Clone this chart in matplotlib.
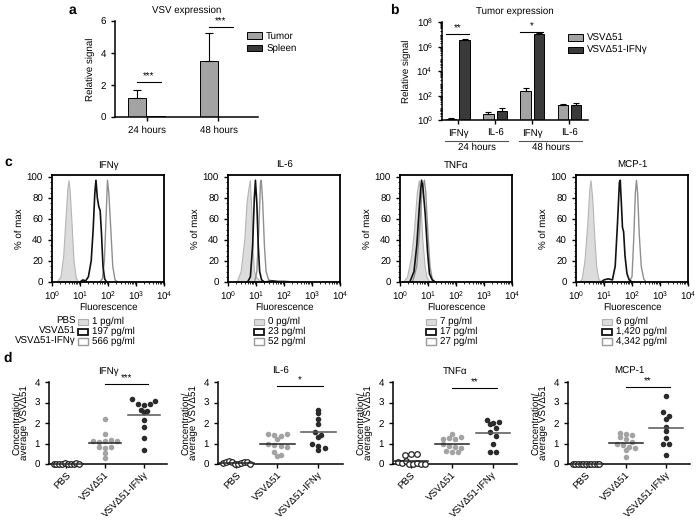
import matplotlib
matplotlib.use('Agg')
import matplotlib.pyplot as plt
import matplotlib.transforms as mtransforms
from matplotlib.patches import Rectangle
from matplotlib.ticker import LogLocator, NullFormatter, MultipleLocator, FixedLocator
import numpy as np

plt.rcParams['font.family'] = ['Liberation Sans', 'DejaVu Sans']
plt.rcParams['mathtext.default'] = 'regular'
plt.rcParams['text.hinting'] = 'no_hinting'
plt.rcParams['font.size'] = 7
plt.rcParams['axes.linewidth'] = 1.1
plt.rcParams['xtick.major.size'] = 3
plt.rcParams['ytick.major.size'] = 3
plt.rcParams['xtick.minor.size'] = 1.5
plt.rcParams['ytick.minor.size'] = 1.5
plt.rcParams['xtick.major.width'] = 1.0
plt.rcParams['ytick.major.width'] = 1.0

LIGHT = '#a3a3a3'
DARK = '#3a3a3a'

# ---- panel a: VSV expression
a_groups = ['24 hours', '48 hours']
a_tumor = [1.2, 3.5]
a_tumor_err = [0.5, 1.75]
a_spleen = [0.04, 0.03]
a_sig = ['***', '***']
a_sig_y = [2.2, 5.6]

# ---- panel b: tumor expression (log scale)
b_cats = ['IFNγ', 'IL-6', 'IFNγ', 'IL-6']
b_times = ['24 hours', '48 hours']
b_vsv = [1.2, 2.9, 230, 16]
b_vsv_top = [1.4, 4.2, 430, 22]
b_ifn = [3.6e6, 5.4, 1.05e7, 16.5]
b_ifn_top = [4.2e6, 10, 1.25e7, 26]
b_sig = ['**', '*']
b_sig_y = [1.0e7, 1.4e7]

# ---- panel c: flow histograms, points read as (log10 fluorescence, % of max)
c_titles = ['IFNγ', 'IL-6', 'TNFα', 'MCP-1']
c_groups = ['PBS', 'VSVΔ51', 'VSVΔ51-IFNγ']
c_conc = [['1 pg/ml', '197 pg/ml', '566 pg/ml'],
          ['0 pg/ml', '23 pg/ml', '52 pg/ml'],
          ['7 pg/ml', '17 pg/ml', '27 pg/ml'],
          ['6 pg/ml', '1,420 pg/ml', '4,342 pg/ml']]

ifng_pbs = [(0.15, 0), (0.3, 5), (0.4, 25), (0.48, 60), (0.55, 90), (0.59, 97), (0.63, 88),
            (0.7, 55), (0.77, 20), (0.85, 4), (0.95, 0)]
ifng_vsv = [(1.0, 0), (1.1, 2), (1.2, 1), (1.3, 5), (1.4, 20), (1.47, 50), (1.53, 85), (1.57, 97),
            (1.62, 80), (1.67, 72), (1.72, 68), (1.77, 45), (1.82, 15), (1.88, 3), (1.95, 0)]
ifng_ifn = [(1.7, 0), (1.8, 3), (1.87, 20), (1.93, 60), (1.98, 97), (2.03, 85), (2.1, 50),
            (2.17, 15), (2.25, 2), (2.35, 0)]

il6_pbs = [(0.3, 0), (0.45, 10), (0.58, 40), (0.66, 75), (0.72, 88), (0.78, 97), (0.83, 70),
           (0.88, 30), (0.93, 10), (1.0, 5), (1.1, 2), (1.2, 0)]
il6_vsv = [(0.7, 0), (0.8, 5), (0.88, 35), (0.94, 80), (0.98, 97), (1.03, 75), (1.08, 35),
           (1.13, 10), (1.2, 2), (1.3, 0), (1.6, 1), (1.8, 0)]
il6_ifn = [(0.95, 0), (1.03, 10), (1.1, 50), (1.16, 95), (1.19, 97), (1.24, 75), (1.3, 35),
           (1.36, 10), (1.45, 2), (1.6, 1), (2.0, 1), (2.3, 0)]

tnf_pbs = [(0.1, 0), (0.25, 5), (0.4, 25), (0.5, 50), (0.6, 85), (0.67, 97), (0.72, 80),
           (0.8, 40), (0.88, 15), (0.95, 5), (1.05, 0)]
tnf_vsv = [(0.35, 0), (0.5, 10), (0.6, 35), (0.7, 75), (0.77, 97), (0.82, 90), (0.9, 65),
           (0.98, 30), (1.05, 8), (1.15, 2), (1.25, 0)]
tnf_ifn = [(0.45, 0), (0.6, 15), (0.7, 50), (0.78, 85), (0.87, 97), (0.92, 85), (1.0, 45),
           (1.07, 15), (1.15, 3), (1.25, 0)]

mcp_pbs = [(0.1, 0), (0.2, 3), (0.3, 20), (0.4, 55), (0.48, 90), (0.52, 97), (0.58, 80),
           (0.65, 45), (0.72, 15), (0.8, 3), (0.9, 0)]
mcp_vsv = [(0.9, 0), (1.0, 2), (1.15, 3), (1.3, 2), (1.4, 15), (1.48, 55), (1.55, 95), (1.58, 97),
           (1.62, 75), (1.66, 52), (1.7, 48), (1.75, 25), (1.82, 8), (1.9, 2), (2.0, 0)]
mcp_ifn = [(1.9, 0), (2.0, 5), (2.06, 40), (2.12, 85), (2.16, 97), (2.2, 85), (2.26, 45),
           (2.33, 15), (2.42, 3), (2.5, 0)]

c_curves = [(ifng_pbs, ifng_vsv, ifng_ifn), (il6_pbs, il6_vsv, il6_ifn),
            (tnf_pbs, tnf_vsv, tnf_ifn), (mcp_pbs, mcp_vsv, mcp_ifn)]

# ---- panel d: concentration / average VSVd51
d_titles = ['IFNγ', 'IL-6', 'TNFα', 'MCP-1']
d_cats = ['PBS', 'VSVΔ51', 'VSVΔ51-IFNγ']
ifng_d = [[0.0, 0.02, 0.0, 0.01, 0.03, 0.0, 0.02, 0.01, 0.04, 0.0],
          [2.2, 1.45, 1.1, 1.05, 1.1, 1.15, 1.1, 0.85, 0.8, 0.85, 0.55, 0.3],
          [3.15, 2.95, 2.9, 2.95, 3.05, 2.65, 2.55, 2.6, 2.15, 1.8, 1.25, 0.7]]
il6_d = [[0.05, 0.1, 0.15, 0.12, 0.02, 0.0, 0.05, 0.08, 0.1, 0.0],
         [1.45, 1.4, 1.35, 1.45, 1.2, 1.0, 0.95, 0.9, 0.85, 0.6, 0.45, 0.4],
         [2.65, 2.5, 2.2, 1.95, 1.55, 1.4, 1.3, 1.0, 0.9, 0.8, 0.7]]
tnf_d = [[0.45, 0.5, 0.5, 0.1, 0.05, 0.15, 0.0, 0.0, 0.05, 0.0, 0.0],
         [1.45, 1.2, 1.25, 1.2, 1.3, 1.0, 0.9, 0.85, 0.8, 0.65, 0.6, 0.6],
         [2.15, 2.0, 1.95, 2.05, 1.75, 1.55, 1.35, 1.0, 0.6, 0.6]]
mcp_d = [[0.0] * 11,
         [1.5, 1.45, 1.4, 1.3, 1.2, 1.05, 1.0, 0.95, 0.85, 0.8, 0.7, 0.35],
         [3.3, 2.55, 2.35, 2.2, 1.8, 1.6, 1.25, 1.0, 1.0, 0.45]]
d_data = [ifng_d, il6_d, tnf_d, mcp_d]
d_sig = ['***', '*', '**', '**']
d_sig_y = [3.9, 3.8, 3.7, 3.75]


fig = plt.figure(figsize=(7, 5.2), dpi=100)


def px_axes(l, t, r, b):
    return fig.add_axes([l / 700, 1 - b / 520, (r - l) / 700, (b - t) / 520])


def clean(ax):
    ax.spines['top'].set_visible(False)
    ax.spines['right'].set_visible(False)


def swarm(vals, bin_w=0.3, step=0.15, maxw=0.66):
    vals = np.asarray(vals, dtype=float)
    off = np.zeros(len(vals))
    keys = np.round(vals / bin_w)
    for k in np.unique(keys):
        idx = np.where(keys == k)[0]
        n = len(idx)
        if n > 1:
            s = min(step, maxw / (n - 1))
            off[idx] = (np.arange(n) - (n - 1) / 2) * s
    return off


# ===== a =====
ax = px_axes(115, 21, 258, 117)
clean(ax)
xa = np.arange(len(a_groups))
w = 0.25
ax.bar(xa - 0.135, a_tumor, w, color=LIGHT, edgecolor='k', lw=0.7, label='Tumor')
ax.bar(xa + 0.135, a_spleen, w, color=DARK, edgecolor='k', lw=0.7, label='Spleen')
ax.errorbar(xa - 0.135, a_tumor, yerr=[np.zeros(2), a_tumor_err], fmt='none',
            ecolor='k', elinewidth=0.8, capsize=3, capthick=0.8)
for i in range(len(a_groups)):
    ax.plot([xa[i] - 0.135, xa[i] + 0.2], [a_sig_y[i]] * 2, color='k', lw=0.8, clip_on=False)
    ax.text(xa[i] + 0.03, a_sig_y[i] + 0.05, a_sig[i], ha='center', va='bottom', fontsize=7)
ax.set_xlim(-0.44, 1.55)
ax.set_ylim(0, 6)
ax.set_yticks([0, 2, 4, 6])
ax.set_xticks(xa)
ax.set_xticklabels(a_groups)
ax.set_ylabel('Relative signal')
ax.set_title('VSV expression', fontsize=7, pad=6)
ax.legend(loc='upper left', bbox_to_anchor=(0.86, 0.98), frameon=False, fontsize=7,
          handlelength=1.6, handleheight=0.6, handletextpad=0.4, labelspacing=0.3)

# ===== b =====
ax = px_axes(442, 22, 588, 120)
clean(ax)
ax.set_yscale('log')
xb = np.arange(len(b_cats))
wb = 0.28
ax.bar(xb - 0.18, b_vsv, wb, color=LIGHT, edgecolor='k', lw=0.7, label='VSVΔ51')
ax.bar(xb + 0.18, b_ifn, wb, color=DARK, edgecolor='k', lw=0.7, label='VSVΔ51-IFNγ')
ax.errorbar(xb - 0.18, b_vsv, yerr=[np.zeros(4), np.array(b_vsv_top) - np.array(b_vsv)],
            fmt='none', ecolor='k', elinewidth=0.8, capsize=2.5, capthick=0.8)
ax.errorbar(xb + 0.18, b_ifn, yerr=[np.zeros(4), np.array(b_ifn_top) - np.array(b_ifn)],
            fmt='none', ecolor='k', elinewidth=0.8, capsize=2.5, capthick=0.8)
for k, g in enumerate([0, 2]):
    ax.plot([g - 0.32, g + 0.3], [b_sig_y[k]] * 2, color='k', lw=0.8, clip_on=False)
    ax.text(g - 0.01, b_sig_y[k] * 1.1, b_sig[k], ha='center', va='bottom', fontsize=7)
ax.set_ylim(1, 1e8)
ax.set_xlim(-0.43, 3.5)
ax.yaxis.set_major_locator(FixedLocator([1, 1e2, 1e4, 1e6, 1e8]))
ax.yaxis.set_minor_locator(LogLocator(base=10, subs=np.arange(2, 10), numticks=20))
ax.yaxis.set_minor_formatter(NullFormatter())
ax.set_xticks(xb)
ax.set_xticklabels(b_cats)
ax.set_ylabel('Relative signal')
ax.set_title('Tumor expression', fontsize=7, pad=6)
trans = mtransforms.blended_transform_factory(ax.transData, ax.transAxes)
for k, t in enumerate(b_times):
    c0 = 2 * k
    ax.plot([c0 - 0.35, c0 + 1.35], [-0.215, -0.215], transform=trans, color='#555555',
            lw=0.8, clip_on=False)
    ax.text(c0 + 0.5, -0.235, t, transform=trans, ha='center', va='top')
ax.legend(loc='upper left', bbox_to_anchor=(0.8, 0.97), frameon=False, fontsize=7,
          handlelength=1.6, handleheight=0.6, handletextpad=0.4, labelspacing=0.3)

# ===== c =====
c_lefts = [52, 228, 400, 576]
for i in range(4):
    l = c_lefts[i]
    ax = px_axes(l, 175, l + 112, 282)
    pbs, vsv, ifn = [np.array(cv) for cv in c_curves[i]]
    ax.fill_between(10 ** pbs[:, 0], pbs[:, 1], color='#dcdcdc', edgecolor='#b5b5b5', lw=0.8)
    ax.plot(10 ** ifn[:, 0], ifn[:, 1], color='#8f8f8f', lw=1.0)
    ax.plot(10 ** vsv[:, 0], vsv[:, 1], color='#111111', lw=1.2)
    ax.set_xscale('log')
    ax.set_xlim(1, 1e4)
    ax.set_ylim(0, 102)
    ax.set_yticks(range(0, 101, 20))
    ax.yaxis.set_minor_locator(MultipleLocator(5))
    ax.xaxis.set_major_locator(FixedLocator([1, 10, 100, 1000, 10000]))
    ax.xaxis.set_minor_locator(LogLocator(base=10, subs=np.arange(2, 10), numticks=20))
    ax.xaxis.set_minor_formatter(NullFormatter())
    ax.tick_params(axis='x', pad=2)
    for s in ax.spines.values():
        s.set_linewidth(1.3)
    ax.set_title(c_titles[i], fontsize=7, pad=5)
    ax.set_ylabel('% of max', labelpad=2)
    ax.set_xlabel('Fluorescence')
    ax.xaxis.set_label_coords(0.5, -0.19)
    styles = [('#dcdcdc', '#b0b0b0', 0.8), ('white', '#111111', 1.3), ('white', '#9a9a9a', 1.0)]
    for j in range(3):
        yy = -0.40 - j * 0.093
        ax.add_patch(Rectangle((0.235, yy), 0.09, 0.058, transform=ax.transAxes,
                               facecolor=styles[j][0], edgecolor=styles[j][1], lw=styles[j][2],
                               clip_on=False))
        ax.text(0.355, yy + 0.029, c_conc[i][j], transform=ax.transAxes, va='center', ha='left')
        if i == 0:
            ax.text(0.215, yy + 0.029, c_groups[j], transform=ax.transAxes, va='center',
                    ha='right')

# ===== d =====
d_lefts = [(49, 167), (218, 343), (393, 517), (568, 690)]
for i in range(4):
    l, r = d_lefts[i]
    ax = px_axes(l, 382, r, 464)
    clean(ax)
    groups = d_data[i]
    for g, vals in enumerate(groups):
        xs = g + swarm(vals)
        if g == 0:
            ax.scatter(xs, vals, s=16, facecolor='white', edgecolor='#222222', lw=0.9,
                       clip_on=False, zorder=3)
        else:
            ax.scatter(xs, vals, s=16, color=LIGHT if g == 1 else '#2b2b2b', lw=0,
                       clip_on=False, zorder=3)
        m = np.mean(vals)
        ax.plot([g - 0.42, g + 0.42], [m, m], color='#222222' if g < 2 else '#555555',
                lw=1.1, zorder=4, clip_on=False)
    ax.plot([1, 2.1], [d_sig_y[i]] * 2, color='k', lw=0.8, clip_on=False)
    ax.text(1.55, d_sig_y[i] + 0.02, d_sig[i], ha='center', va='bottom', fontsize=7)
    ax.set_xlim(-0.45, 2.6)
    ax.set_ylim(0, 4)
    ax.set_yticks([0, 1, 2, 3, 4])
    ax.set_xticks(range(3))
    ax.set_xticklabels(d_cats, rotation=45, ha='right', rotation_mode='anchor')
    ax.tick_params(axis='x', pad=2)
    ax.set_title(d_titles[i], fontsize=7, pad=6)
    ax.set_ylabel('Concentration/\naverage VSVΔ51', labelpad=3, linespacing=1.0)

# panel letters
for lab, x, y in [('a', 72, 10), ('b', 394, 10), ('c', 8, 162), ('d', 8, 358)]:
    fig.text(x / 700, 1 - y / 520, lab, fontsize=10, fontweight='bold', ha='center', va='center')

fig.savefig('out.png', dpi=100)
